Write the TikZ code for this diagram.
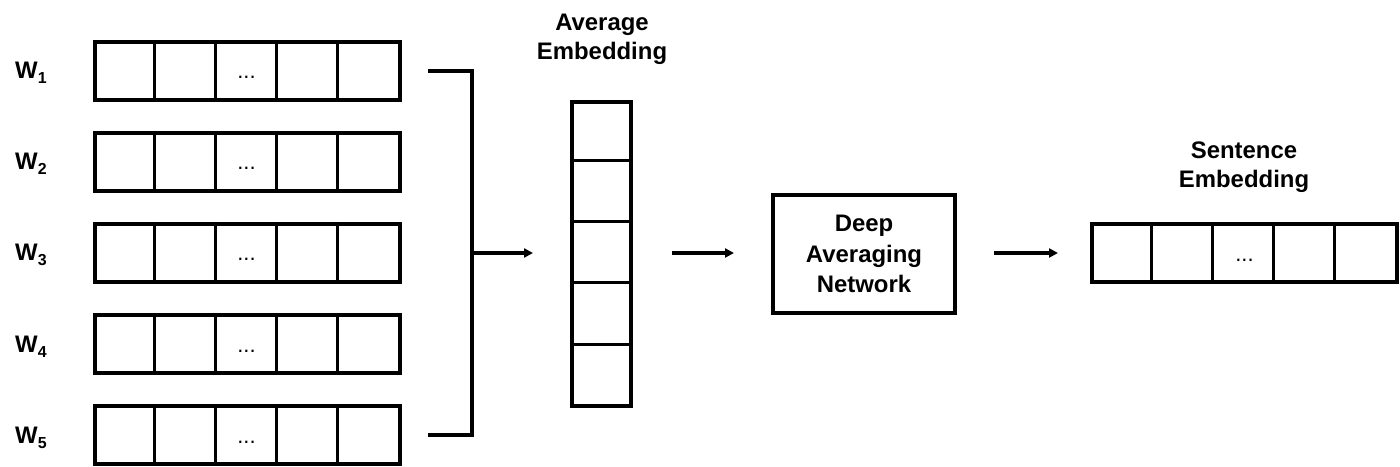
\documentclass[tikz,border=0pt]{standalone}
\usepackage{fontspec}
\setmainfont{Liberation Sans}
\usetikzlibrary{arrows.meta}
\tikzset{
  lbl/.style={font=\fontsize{24}{30}\selectfont\bfseries, align=center, inner sep=0pt},
  rowbox/.style={draw, line width=4bp, minimum width=305bp, minimum height=58bp, inner sep=0pt},
  colbox/.style={draw, line width=4bp, minimum width=59bp, minimum height=304bp, inner sep=0pt},
  dan/.style={draw, line width=4bp, minimum width=182bp, minimum height=118bp, inner sep=0pt,
              font=\fontsize{24}{31}\selectfont\bfseries, align=center},
  divider/.style={line width=3bp},
  conn/.style={line width=4bp},
  arr/.style={line width=4bp, -{Triangle[length=9bp,width=9bp]}},
  dots/.style={font=\fontsize{22}{22}\selectfont, inner sep=0pt, anchor=base},
}
\newcommand{\wlab}[1]{W\raisebox{-5bp}{\fontsize{16}{16}\selectfont #1}}
\begin{document}
\begin{tikzpicture}[x=1bp,y=-1bp]
\useasboundingbox (0,0) rectangle (1400,467);
% word rows
\foreach \i/\yy in {1/71,2/162,3/253,4/344,5/435}{
  \node[rowbox] (r\i) at (247.5,\yy) {};
  \foreach \k in {1,2,3,4}{
    \draw[divider] ([xshift=\k*61bp]r\i.north west) -- ([xshift=\k*61bp]r\i.south west);
  }
  \node[dots] (d\i) at ([xshift=-1bp,yshift=-8bp]r\i.center) {...};
  \node[lbl, anchor=base west] (w\i) at (15,\yy+8) {\wlab{\i}};
}
% bracket
\coordinate (b1) at (428,71);
\coordinate (b1c) at (472,71);
\coordinate (b5) at (428,435);
\coordinate (b5c) at (472,435);
\coordinate (bm) at (472,253);
\draw[conn, line join=miter] (b1) -- (b1c) -- (b5c) -- (b5);
% average embedding column
\node[colbox] (avg) at (601.5,254) {};
\foreach \k in {1,2,3,4}{
  \draw[divider] ([yshift=-\k*61bp]avg.north west) -- ([yshift=-\k*61bp]avg.north east);
}
\node[lbl, anchor=base] (avglbl) at (602,60) {Average\\Embedding};
\coordinate (a1) at (533,253);
\draw[arr] (bm) -- (a1);
% DAN
\node[dan] (dn) at (864,254) {Deep\\Averaging\\Network};
\coordinate (a2s) at (672,253);
\coordinate (a2e) at (734,253);
\draw[arr] (a2s) -- (a2e);
% sentence embedding
\node[rowbox] (se) at (1244.5,253.5) {};
\foreach \k in {1,2,3,4}{
  \draw[divider] ([xshift=\k*61bp]se.north west) -- ([xshift=\k*61bp]se.south west);
}
\node[dots] (sd) at ([yshift=-8bp]se.center) {...};
\node[lbl, anchor=base] (selbl) at (1244,188) {Sentence\\Embedding};
\coordinate (a3s) at (994,253);
\coordinate (a3e) at (1058,253);
\draw[arr] (a3s) -- (a3e);
\end{tikzpicture}
\end{document}
